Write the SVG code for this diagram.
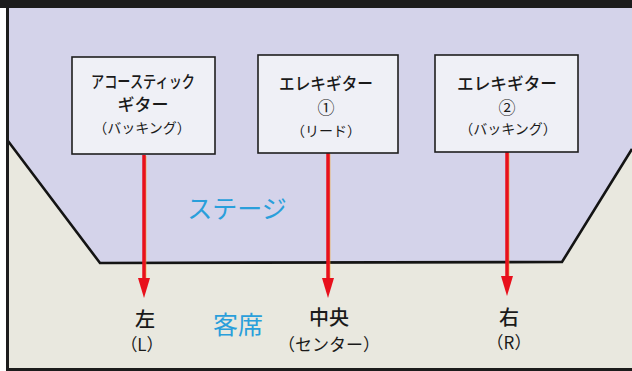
<svg xmlns="http://www.w3.org/2000/svg" width="632" height="371" viewBox="0 0 632 371">
  <defs>
    <style>
      .box { fill: #eff0f6; stroke: #1e1e1e; stroke-width: 1.6; }
      .t1 { font-family: "Noto Sans CJK JP", "Noto Sans", sans-serif; font-size: 17px; font-weight: 500; fill: #1a1a1a; text-anchor: middle; }
      .num { font-family: "Noto Sans CJK JP", "Noto Sans", sans-serif; font-size: 17px; font-weight: 400; fill: #1a1a1a; text-anchor: middle; }
      .t3 { font-family: "Noto Sans CJK JP", "Noto Sans", sans-serif; font-size: 14px; font-weight: 400; fill: #1a1a1a; text-anchor: middle; }
      .pos { font-family: "Noto Sans CJK JP", "Noto Sans", sans-serif; font-size: 20px; font-weight: 500; fill: #1a1a1a; text-anchor: middle; }
      .sub { font-family: "Noto Sans CJK JP", "Noto Sans", sans-serif; font-size: 17px; font-weight: 400; fill: #1a1a1a; text-anchor: middle; }
      .area { font-family: "Noto Sans CJK JP", "Noto Sans", sans-serif; font-size: 25px; font-weight: 400; fill: #2a9fdb; text-anchor: middle; }
      .arrow { stroke: #e8101c; stroke-width: 3.5; fill: none; }
      .glow { stroke: #f5a623; stroke-width: 1; fill: none; }
    </style>
    <marker id="head" markerUnits="userSpaceOnUse" markerWidth="20" markerHeight="12" refX="12" refY="6" orient="auto">
      <path d="M0,0 L20,6 L0,12 z" fill="#e8101c"/>
    </marker>
  </defs>

  <!-- background / frame -->
  <rect x="0" y="0" width="632" height="371" fill="#ffffff"/>
  <rect x="8" y="0" width="624" height="371" fill="#e9e8df"/>
  <polygon points="8,8 632,8 632,149 562,262 100,263 8,141" fill="#d4d3ea"/>
  <polyline points="8,141 100,263 562,262 632,149" fill="none" stroke="#141414" stroke-width="2.6" stroke-linejoin="miter"/>
  <rect x="0" y="0" width="632" height="8" fill="#1c1c1c"/>
  <rect x="6" y="0" width="3" height="371" fill="#1c1c1c"/>
  <rect x="6" y="368" width="626" height="3" fill="#1c1c1c"/>

  <text class="area" x="237" y="218">ステージ</text>
  <text class="area" x="238" y="334">客席</text>

  <!-- connectors -->
  <g id="connectors">
    <line class="glow" x1="145.8" y1="156" x2="145.8" y2="286"/>
    <line class="arrow" x1="144" y1="155" x2="144" y2="290" marker-end="url(#head)"/>
    <line class="glow" x1="329.8" y1="154" x2="329.8" y2="286"/>
    <line class="arrow" x1="328" y1="153" x2="328" y2="290" marker-end="url(#head)"/>
    <line class="glow" x1="508.8" y1="153" x2="508.8" y2="284"/>
    <line class="arrow" x1="507" y1="152" x2="507" y2="288" marker-end="url(#head)"/>
  </g>

  <!-- nodes -->
  <g id="acoustic">
    <rect class="box" x="72" y="57" width="143" height="97"/>
    <text class="t1" x="143" y="88" textLength="104" lengthAdjust="spacingAndGlyphs">アコースティック</text>
    <text class="t1" x="143" y="111">ギター</text>
    <text class="t3" x="142" y="133">（バッキング）</text>
  </g>
  <g id="electric1">
    <rect class="box" x="258" y="55" width="140" height="98"/>
    <text class="t1" x="326" y="90" textLength="94" lengthAdjust="spacingAndGlyphs">エレキギター</text>
    <text class="num" x="326" y="114">①</text>
    <text class="t3" x="326" y="136">（リード）</text>
  </g>
  <g id="electric2">
    <rect class="box" x="435" y="55" width="143" height="97"/>
    <text class="t1" x="507" y="90" textLength="100" lengthAdjust="spacingAndGlyphs">エレキギター</text>
    <text class="num" x="507" y="114">②</text>
    <text class="t3" x="508" y="134">（バッキング）</text>
  </g>

  <g id="left">
    <text class="pos" x="145" y="327">左</text>
    <text class="sub" x="142" y="351">（L）</text>
  </g>
  <g id="center">
    <text class="pos" x="329" y="325">中央</text>
    <text class="sub" x="329" y="351">（センター）</text>
  </g>
  <g id="right">
    <text class="pos" x="509" y="325">右</text>
    <text class="sub" x="509" y="349">（R）</text>
  </g>
</svg>
